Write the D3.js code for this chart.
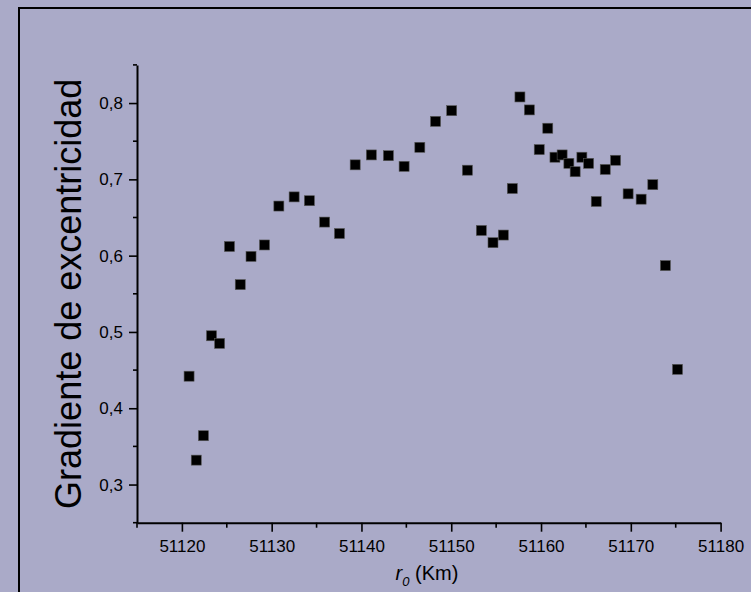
<!DOCTYPE html>
<html>
<head>
<meta charset="utf-8">
<script src="https://cdn.jsdelivr.net/npm/d3@7"></script>
<style>
  body { margin: 0; background: #aaaac8; }
  svg { display: block; font-family: "Liberation Sans", Arial, sans-serif; }
</style>
</head>
<body>
<div id="chart"></div>
<script>
// r0 values (Km) and eccentricity gradient
const r0 = [
  51120.8, 51121.6, 51122.4, 51123.3, 51124.2, 51125.3, 51126.5, 51127.7, 51129.2,
  51130.8, 51132.5, 51134.2, 51135.9, 51137.55, 51139.3, 51141.1, 51143.0, 51144.75,
  51146.5, 51148.25, 51150.05, 51151.8, 51153.35, 51154.65, 51155.8, 51156.8, 51157.65,
  51158.7, 51159.8, 51160.75, 51161.55, 51162.35, 51163.1, 51163.8, 51164.55, 51165.3,
  51166.15, 51167.15, 51168.3, 51169.7, 51171.15, 51172.45, 51173.85, 51175.2
];
const gradiente = [
  0.442, 0.332, 0.364, 0.495, 0.485, 0.612, 0.562, 0.599, 0.614,
  0.665, 0.677, 0.672, 0.644, 0.629, 0.719, 0.732, 0.731, 0.717,
  0.742, 0.776, 0.790, 0.712, 0.633, 0.617, 0.627, 0.688, 0.808,
  0.791, 0.739, 0.767, 0.729, 0.732, 0.721, 0.710, 0.729, 0.721,
  0.671, 0.713, 0.725, 0.681, 0.674, 0.693, 0.587, 0.451
];
const xTicks = [51120, 51130, 51140, 51150, 51160, 51170, 51180];
const yTicks = [0.3, 0.4, 0.5, 0.6, 0.7, 0.8];

const width = 751;
const height = 592;

const svg = d3.select('#chart')
  .append('svg')
  .attr('width', width)
  .attr('height', height);

// outer frame (only left and top edges fall inside the picture)
svg.append('rect')
  .attr('x', 19).attr('y', 8)
  .attr('width', 760).attr('height', 620)
  .attr('fill', '#aaaac8')
  .attr('stroke', '#000')
  .attr('stroke-width', 2);

const xScale = d3.scaleLinear().domain([51115, 51180]).range([137, 720.6]);
const yScale = d3.scaleLinear().domain([0.25, 0.85]).range([522.7, 64.9]);

const fmt = d => d3.format('.1f')(d).replace('.', ',');

// minor ticks
const xMinor = d3.range(51115, 51181, 5).filter(v => !xTicks.includes(v));
const yMinor = [0.25, 0.35, 0.45, 0.55, 0.65, 0.75, 0.85];

const xAxis = svg.append('g')
  .attr('transform', `translate(0,${yScale(0.25)})`)
  .call(d3.axisBottom(xScale).tickValues(xTicks).tickFormat(d3.format('d'))
    .tickSize(9).tickSizeOuter(0).tickPadding(8));
xAxis.append('g').selectAll('line')
  .data(xMinor).enter().append('line')
  .attr('x1', d => xScale(d)).attr('x2', d => xScale(d))
  .attr('y1', 0).attr('y2', 5)
  .attr('stroke', '#000').attr('stroke-width', 1.6);

const yAxis = svg.append('g')
  .attr('transform', `translate(${xScale(51115)},0)`)
  .call(d3.axisLeft(yScale).tickValues(yTicks).tickFormat(fmt)
    .tickSize(8).tickSizeOuter(0).tickPadding(6));
yAxis.append('g').selectAll('line')
  .data(yMinor).enter().append('line')
  .attr('x1', 0).attr('x2', -4)
  .attr('y1', d => yScale(d)).attr('y2', d => yScale(d))
  .attr('stroke', '#000').attr('stroke-width', 1.6);

svg.selectAll('.domain').attr('stroke', '#000').attr('stroke-width', 2);
svg.selectAll('.tick line').attr('stroke', '#000').attr('stroke-width', 1.6);
xAxis.attr('font-size', 17).attr('font-family', '"Liberation Sans", Arial, sans-serif');
yAxis.attr('font-size', 17).attr('font-family', '"Liberation Sans", Arial, sans-serif');
svg.selectAll('.tick text').attr('fill', '#000');

// axis titles
svg.append('text')
  .attr('transform', `translate(81,${(64.9 + 522.7) / 2}) rotate(-90)`)
  .attr('text-anchor', 'middle')
  .attr('font-size', 36)
  .attr('fill', '#000')
  .text('Gradiente de excentricidad');

const xt = svg.append('text')
  .attr('x', 427).attr('y', 580)
  .attr('text-anchor', 'middle')
  .attr('font-size', 20)
  .attr('fill', '#000');
xt.append('tspan').attr('font-style', 'italic').text('r');
xt.append('tspan').attr('font-style', 'italic').attr('font-size', 13).attr('dy', 6).text('0');
xt.append('tspan').attr('dy', -6).text(' (Km)');

// data points
const pts = r0.map((r, i) => ({ r: r, g: gradiente[i] }));
const s = 10;
svg.append('g').selectAll('rect')
  .data(pts).enter().append('rect')
  .attr('x', d => xScale(d.r) - s / 2)
  .attr('y', d => yScale(d.g) - s / 2)
  .attr('width', s).attr('height', s)
  .attr('fill', '#000')
  .attr('stroke', '#555')
  .attr('stroke-width', 0.6);
</script>
</body>
</html>
